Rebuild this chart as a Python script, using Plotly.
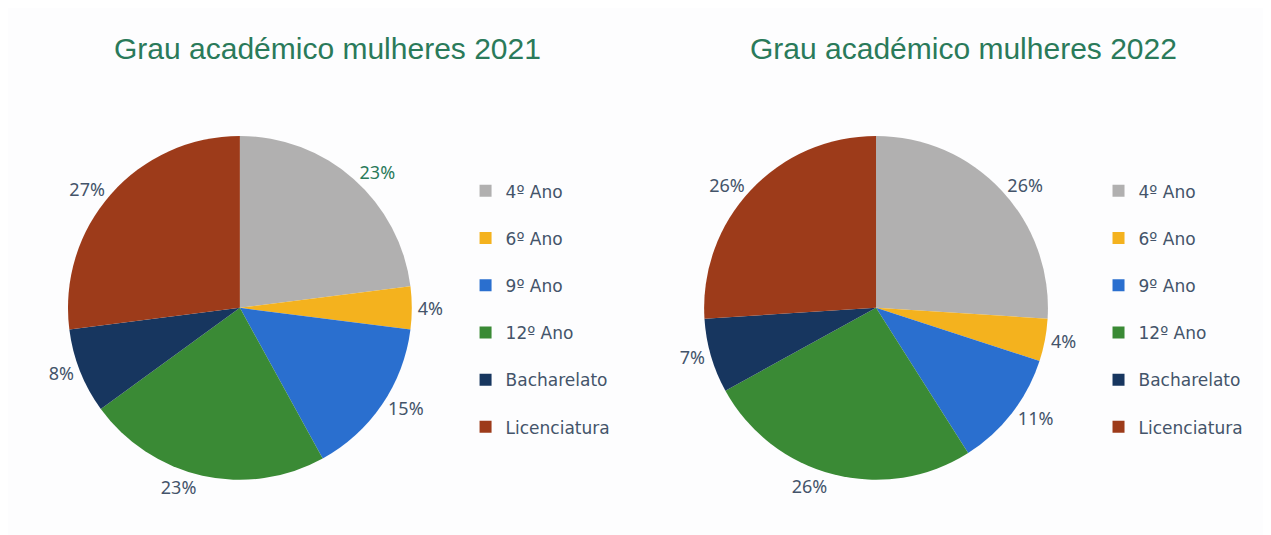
"""Grau académico mulheres 2021 / 2022 - dois gráficos circulares."""

import plotly.graph_objects as go

categorias = ["4º Ano", "6º Ano", "9º Ano", "12º Ano", "Bacharelato", "Licenciatura"]
valores_2021 = [23, 4, 15, 23, 8, 27]
valores_2022 = [26, 4, 11, 26, 7, 26]
titulos = ["Grau académico mulheres 2021", "Grau académico mulheres 2022"]

cores = ["#b1b0b0", "#f4b21e", "#2a6fcf", "#3a8a35", "#17365f", "#9d3b1a"]
cor_texto = "#44546a"
verde = "#2a7a5a"

# rótulos com linha extra para afastar as entradas da legenda;
# o sufixo difere para que cada gráfico tenha a sua própria legenda
rotulos_2021 = [c + "<br> " for c in categorias]
rotulos_2022 = [c + "<br>  " for c in categorias]

fig = go.Figure()
fig.add_trace(go.Pie(
    labels=rotulos_2021, values=valores_2021, sort=False, direction="clockwise",
    marker=dict(colors=cores), texttemplate="%{value}%", textposition="outside",
    textfont=dict(color=[verde] + [cor_texto] * 5, size=18, family="Noto Sans"),
    domain=dict(x=[0.0472, 0.3177], y=[0.118, 0.761]), legend="legend",
    hovertemplate="%{label}: %{value}%<extra></extra>",
))
fig.add_trace(go.Pie(
    labels=rotulos_2022, values=valores_2022, sort=False, direction="clockwise",
    marker=dict(colors=cores), texttemplate="%{value}%", textposition="outside",
    textfont=dict(color=cor_texto, size=18, family="Noto Sans"),
    domain=dict(x=[0.5477, 0.8182], y=[0.118, 0.761]), legend="legend2",
    hovertemplate="%{label}: %{value}%<extra></extra>",
))

legenda = dict(font=dict(family="DejaVu Sans", size=17, color=cor_texto),
               valign="top", xanchor="left", yanchor="top", bgcolor="rgba(0,0,0,0)")
titulo_fonte = dict(family="Liberation Sans", size=30, color=verde)
fig.update_layout(
    width=1271, height=535,
    margin=dict(l=0, r=0, t=0, b=0, autoexpand=False),
    paper_bgcolor="#fdfdfe", plot_bgcolor="#fdfdfe",
    legend=dict(x=0.360, y=0.691, **legenda),
    legend2=dict(x=0.858, y=0.691, **legenda),
    annotations=[
        dict(text=titulos[0], x=0.2517, y=0.925, xref="paper", yref="paper",
             xanchor="center", yanchor="middle", showarrow=False, font=titulo_fonte),
        dict(text=titulos[1], x=0.7517, y=0.925, xref="paper", yref="paper",
             xanchor="center", yanchor="middle", showarrow=False, font=titulo_fonte),
    ],
)
fig.write_html("out.html")
